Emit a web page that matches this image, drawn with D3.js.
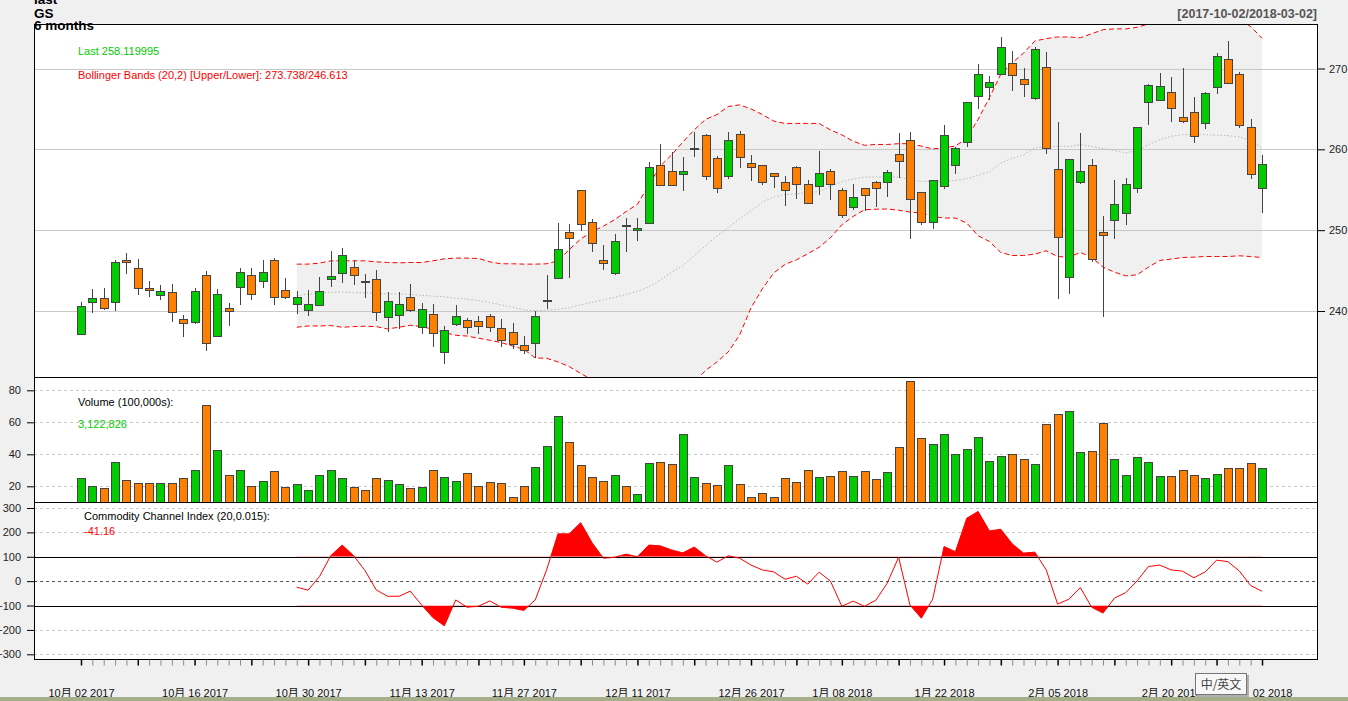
<!DOCTYPE html>
<html lang="en">
<head>
<meta charset="utf-8">
<title>GS 6 months</title>
<style>
  html, body { margin: 0; padding: 0; background: #f0f0f0; }
  svg { display: block; font-family: "Liberation Sans", Arial, sans-serif; }
</style>
</head>
<body>
<svg id="chart" width="1348" height="701"></svg>
<script src="https://cdn.jsdelivr.net/npm/d3@7"></script>
<script>
// trading days, 2017-10-02 .. 2018-03-02
const dates = [
  "2017-10-02","2017-10-03","2017-10-04","2017-10-05","2017-10-06","2017-10-09","2017-10-10","2017-10-11","2017-10-12","2017-10-13",
  "2017-10-16","2017-10-17","2017-10-18","2017-10-19","2017-10-20","2017-10-23","2017-10-24","2017-10-25","2017-10-26","2017-10-27",
  "2017-10-30","2017-10-31","2017-11-01","2017-11-02","2017-11-03","2017-11-06","2017-11-07","2017-11-08","2017-11-09","2017-11-10",
  "2017-11-13","2017-11-14","2017-11-15","2017-11-16","2017-11-17","2017-11-20","2017-11-21","2017-11-22","2017-11-24","2017-11-27",
  "2017-11-28","2017-11-29","2017-11-30","2017-12-01","2017-12-04","2017-12-05","2017-12-06","2017-12-07","2017-12-08","2017-12-11",
  "2017-12-12","2017-12-13","2017-12-14","2017-12-15","2017-12-18","2017-12-19","2017-12-20","2017-12-21","2017-12-22","2017-12-26",
  "2017-12-27","2017-12-28","2017-12-29","2018-01-02","2018-01-03","2018-01-04","2018-01-05","2018-01-08","2018-01-09","2018-01-10",
  "2018-01-11","2018-01-12","2018-01-16","2018-01-17","2018-01-18","2018-01-19","2018-01-22","2018-01-23","2018-01-24","2018-01-25",
  "2018-01-26","2018-01-29","2018-01-30","2018-01-31","2018-02-01","2018-02-02","2018-02-05","2018-02-06","2018-02-07","2018-02-08",
  "2018-02-09","2018-02-12","2018-02-13","2018-02-14","2018-02-15","2018-02-16","2018-02-20","2018-02-21","2018-02-22","2018-02-23",
  "2018-02-26","2018-02-27","2018-02-28","2018-03-01","2018-03-02"
];

const open = [
  237.1,241.1,241.6,241.0,246.3,245.2,242.8,241.95,242.3,239.0,
  238.6,244.4,236.8,240.35,242.95,244.4,243.6,246.2,242.55,240.85,
  240.1,240.7,243.95,244.7,245.4,243.6,243.95,239.2,239.5,241.7,
  238.0,239.6,234.9,238.35,238.85,238.75,239.35,237.85,237.35,235.75,
  235.95,241.2,244.05,249.75,254.95,250.9,246.3,244.6,250.6,250.0,
  250.85,257.95,257.2,256.85,260.0,261.65,258.9,256.65,261.8,258.3,
  258.05,257.05,255.95,257.8,255.6,255.35,257.2,254.85,252.85,255.1,
  255.85,255.85,259.3,261.05,254.6,251.0,255.45,258.05,260.8,266.5,
  267.6,269.2,270.6,268.7,266.25,270.1,257.55,244.2,255.95,258.05,
  249.65,251.25,252.1,255.1,265.85,266.1,267.0,264.0,264.5,263.15,
  267.6,271.1,269.2,262.65,255.1
];
const high = [
  241.1,242.7,242.9,246.3,247.2,246.4,243.7,243.2,243.4,239.5,
  242.8,244.9,242.7,241.0,245.3,245.3,246.3,246.6,244.1,242.45,
  242.6,244.2,247.45,247.8,246.3,244.55,245.05,242.3,242.3,243.3,
  241.0,240.85,238.1,240.7,239.1,239.35,239.6,239.0,238.5,236.9,
  240.0,244.45,250.9,250.75,255.0,251.4,248.2,249.55,251.5,251.55,
  258.4,260.6,259.7,259.05,262.2,261.95,259.2,262.2,262.3,259.3,
  258.1,257.1,256.7,257.95,256.2,259.8,257.55,255.2,255.7,255.2,
  256.1,257.45,262.0,262.2,254.65,256.25,263.0,260.3,265.9,270.6,
  269.1,273.95,272.2,270.1,272.7,272.0,263.4,258.85,262.0,258.8,
  251.8,256.2,256.45,262.8,268.1,269.45,268.95,270.1,266.5,267.1,
  271.95,273.35,269.6,263.7,259.35
];
const low = [
  237.0,239.7,240.1,240.0,244.6,242.0,241.7,241.3,238.7,236.8,
  238.4,235.1,236.8,238.1,240.7,241.3,242.9,240.8,241.5,239.6,
  239.4,240.7,242.95,243.45,243.2,241.65,238.8,237.45,237.8,239.9,
  237.1,235.6,233.5,238.2,237.1,237.1,237.45,235.6,235.35,234.7,
  234.2,240.3,244.0,244.1,249.95,247.35,245.1,244.4,247.25,248.7,
  250.8,255.5,255.5,254.8,259.1,256.25,254.55,256.3,257.75,256.1,
  255.6,255.2,252.95,253.9,253.2,254.3,253.75,251.55,252.55,252.35,
  252.85,254.1,256.45,248.9,250.6,250.15,255.15,256.9,260.35,265.05,
  266.1,269.2,267.25,266.45,266.1,259.45,241.45,242.1,255.7,246.05,
  239.25,248.9,250.65,254.6,262.95,266.0,263.4,263.25,260.8,262.55,
  266.85,268.1,262.65,256.35,252.1
];
const close = [
  240.6,241.6,240.35,246.0,246.0,242.8,242.55,242.45,239.85,238.5,
  242.45,236.0,242.1,240.0,244.8,242.1,244.8,241.7,241.7,241.7,
  240.85,242.45,244.3,246.9,244.45,243.5,239.85,241.2,240.85,240.1,
  240.2,237.25,237.6,239.35,238.0,238.1,238.0,236.4,235.9,235.15,
  239.35,241.3,247.65,249.0,250.7,248.4,245.9,248.65,250.5,250.15,
  257.7,255.55,255.55,257.2,260.1,256.6,255.2,261.05,259.05,257.8,
  255.95,256.6,254.85,255.7,253.35,256.95,255.6,251.85,254.0,254.35,
  255.2,257.1,258.55,253.75,251.0,256.2,261.65,260.15,265.75,269.2,
  268.25,272.55,269.1,268.0,272.3,260.15,249.15,258.8,257.2,246.4,
  249.4,253.2,255.6,262.65,267.85,267.75,265.0,263.5,261.55,266.85,
  271.45,268.1,263.0,256.85,258.12
];
// volume in 100,000s
const volume = [
  25,20,18.75,35,23.75,21.9,21.9,21.9,21.9,25,
  30,70.6,42.5,26.9,30,20,23.1,29.4,19.4,21.25,
  17.5,26.9,30,25,19.4,17.5,25,23.75,21.25,18.75,
  19.4,30,25.6,23.1,28.1,20,22.5,21.9,13.1,20,
  31.9,45,63.75,47.5,33.1,25.6,23.1,26.9,20,15,
  34.4,35,33.75,52.5,25.6,21.9,20.6,33.1,21.25,13.1,
  15.6,13.1,25,22.5,30,25.6,26.25,29.4,26.25,29.4,
  24.4,28.75,44.4,85.6,50,46.25,52.5,40,43.1,50.6,
  35.6,38.75,40,36.9,33.75,58.75,65,66.9,41.25,41.9,
  59.4,36.9,26.9,38.1,35,26.25,26.25,30,26.9,25,
  27.5,31.25,31.25,34.4,31.23
];

// indicators start at the 20th day (index 19)
const indicatorStart = 19;
const bbUpper = [
  245.8,245.8,245.92,246.21,246.21,246.21,246.21,246.08,246.0,245.96,
  246.0,246.0,246.21,246.46,246.54,246.54,246.5,246.08,245.84,245.84,
  245.8,245.8,245.84,246.2,247.6,248.9,249.8,250.5,251.3,252.3,
  253.2,255.6,257.9,259.3,260.9,262.4,263.7,264.3,265.3,265.5,
  265.0,264.3,263.5,263.2,263.2,263.2,263.2,262.4,261.8,261.0,
  260.5,260.6,260.6,260.7,260.7,260.4,260.05,260.2,260.4,261.4,
  263.7,266.4,269.3,270.7,271.9,273.4,273.7,273.9,273.9,273.8,
  274.3,274.8,274.9,274.9,275.1,275.5,276.0,276.5,277.0,277.2,
  277.2,277.0,276.6,276.0,275.2,273.74
];
const bbMid = [
  241.91,242.08,242.24,242.33,242.37,242.28,242.24,242.2,242.12,242.12,
  242.04,241.95,241.83,241.75,241.58,241.46,241.29,241.05,240.76,240.47,
  240.14,240.05,240.1,240.2,240.4,240.76,241.07,241.38,241.69,242.06,
  242.43,242.99,243.79,244.8,245.59,246.83,248.07,249.3,250.3,251.41,
  252.4,253.46,254.1,254.39,254.51,254.63,254.76,255.44,256.0,256.33,
  256.56,256.58,256.58,256.56,256.25,256.04,256.04,256.04,256.16,256.37,
  256.78,257.2,258.31,258.89,259.34,260.17,260.37,260.37,260.37,260.58,
  260.37,260.09,259.88,259.55,259.88,260.58,261.2,261.61,261.82,261.82,
  261.82,261.74,261.7,261.53,261.12,260.18
];
const bbLower = [
  237.99,238.15,238.15,238.2,237.99,238.07,238.11,238.07,237.78,237.99,
  238.24,238.07,237.74,237.33,237.0,236.9,236.63,236.38,236.09,235.67,
  235.26,234.19,234.15,233.7,233.13,232.27,231.5,231.0,230.5,230.2,
  230.0,229.8,229.7,229.8,230.3,231.2,232.64,233.69,234.93,237.04,
  240.38,242.74,244.7,245.77,246.33,247.08,247.88,249.06,250.67,251.7,
  252.53,252.59,252.62,252.47,252.24,252.12,251.7,251.5,251.5,250.88,
  249.31,248.6,247.24,246.87,246.87,247.04,247.45,246.74,246.66,247.24,
  246.66,245.43,244.81,244.35,244.47,245.43,246.25,246.42,246.62,246.66,
  246.74,246.74,246.74,246.83,246.74,246.61
];
const cci = [
  -25,-37,19,105,148,105,44,-36,-62,-62,
  -41,-98,-150,-183,-77,-107,-103,-81,-107,-111,
  -120,-77,46,194,194,240,158,94,98,111,
  100,148,145,128,116,140,104,78,104,94,
  66,46,38,8,20,-12,37,0,-103,-82,
  -103,-78,-8,98,-98,-152,-74,142,121,258,
  286,206,213,153,115,119,46,-94,-74,-26,
  -107,-131,-70,-47,1,60,66,46,41,14,
  38,86,80,42,-18,-41.16
];

const priceTicks = [240, 250, 260, 270];
const volumeTicks = [20, 40, 60, 80];
const cciTicks = [-300, -200, -100, 0, 100, 200, 300];
const labelDates = ["2017-10-02","2017-10-16","2017-10-30","2017-11-13","2017-11-27","2017-12-11",
                    "2017-12-26","2018-01-08","2018-01-22","2018-02-05","2018-02-20","2018-03-02"];

const upCol = "#00cc00", dnCol = "#ff8000", edge = "#444444";

const svg = d3.select("#chart");
const L = 34, R = 1317;
const mainTop = 24, volTop = 377, cciTop = 502, bottom = 659;

const x = d3.scalePoint().domain(dates).range([81, 1262]);
const yP = d3.scaleLinear().domain([240, 270]).range([311, 68.5]);
const yV = d3.scaleLinear().domain([20, 80]).range([486.3, 390.3]);
const yC = d3.scaleLinear().domain([-300, 300]).range([654.3, 508]);
const px = d => Math.round(x(d));

// panels
const defs = svg.append("defs");
[["clipMain", mainTop, volTop], ["clipVol", volTop, cciTop], ["clipCci", cciTop, bottom],
 ["clipHi", cciTop, yC(100)], ["clipLo", yC(-100), bottom]].forEach(([id, t, b]) => {
  defs.append("clipPath").attr("id", id).append("rect")
    .attr("x", L).attr("y", t).attr("width", R - L).attr("height", b - t);
});
svg.append("rect").attr("x", L).attr("y", mainTop).attr("width", R - L).attr("height", bottom - mainTop)
  .attr("fill", "#fff");

// ---- main panel
const gMain = svg.append("g").attr("clip-path", "url(#clipMain)");
const bands = dates.slice(indicatorStart).map((d, i) => ({date: d, u: bbUpper[i], m: bbMid[i], l: bbLower[i]}));

gMain.append("path").datum(bands)
  .attr("fill", "#f0f0f0")
  .attr("d", d3.area().x(d => x(d.date)).y0(d => yP(d.l)).y1(d => yP(d.u)));

gMain.selectAll(".pgrid").data(priceTicks).join("line")
  .attr("x1", L).attr("x2", R)
  .attr("y1", d => Math.round(yP(d)) + 0.5).attr("y2", d => Math.round(yP(d)) + 0.5)
  .attr("stroke", "#c8c8c8");

const bandLine = key => d3.line().x(d => x(d.date)).y(d => yP(d[key]));
gMain.append("path").datum(bands).attr("fill", "none").attr("stroke", "#b8b8b8")
  .attr("stroke-dasharray", "1.5,2").attr("d", bandLine("m"));
["u", "l"].forEach(k => {
  gMain.append("path").datum(bands).attr("fill", "none").attr("stroke", "#ff0000")
    .attr("stroke-dasharray", "5,3").attr("d", bandLine(k));
});

const candles = dates.map((d, i) => ({date: d, o: open[i], h: high[i], l: low[i], c: close[i], v: volume[i]}));
const cg = gMain.append("g").attr("shape-rendering", "crispEdges");
cg.selectAll("line").data(candles).join("line")
  .attr("x1", d => px(d.date) + 0.5).attr("x2", d => px(d.date) + 0.5)
  .attr("y1", d => yP(d.h)).attr("y2", d => yP(d.l))
  .attr("stroke", edge);
cg.selectAll("rect").data(candles).join("rect")
  .attr("x", d => px(d.date) - 3.5).attr("width", 8)
  .attr("y", d => yP(Math.max(d.o, d.c)))
  .attr("height", d => Math.max(1, Math.abs(yP(d.o) - yP(d.c))))
  .attr("fill", d => d.c >= d.o ? upCol : dnCol)
  .attr("stroke", edge);

svg.append("text").attr("x", 78).attr("y", 55).attr("font-size", 11).attr("fill", "#00cc00")
  .text("Last 258.119995");
svg.append("text").attr("x", 78).attr("y", 79).attr("font-size", 11).attr("fill", "#ff0000")
  .text("Bollinger Bands (20,2) [Upper/Lower]: 273.738/246.613");

// ---- volume panel
const gVol = svg.append("g").attr("clip-path", "url(#clipVol)");
gVol.selectAll("line").data(volumeTicks).join("line")
  .attr("x1", L).attr("x2", R)
  .attr("y1", d => Math.round(yV(d)) + 0.5).attr("y2", d => Math.round(yV(d)) + 0.5)
  .attr("stroke", "#c8c8c8").attr("stroke-dasharray", "3,3");
gVol.append("g").attr("shape-rendering", "crispEdges")
  .selectAll("rect").data(candles).join("rect")
  .attr("x", d => px(d.date) - 3.5).attr("width", 8)
  .attr("y", d => yV(d.v)).attr("height", d => cciTop + 2 - yV(d.v))
  .attr("fill", d => d.c >= d.o ? upCol : dnCol)
  .attr("stroke", edge);
svg.append("text").attr("x", 78).attr("y", 406).attr("font-size", 11).text("Volume (100,000s):");
svg.append("text").attr("x", 78).attr("y", 428).attr("font-size", 11).attr("fill", "#00cc00")
  .text(d3.format(",")(3122826));

// ---- CCI panel
const gCci = svg.append("g").attr("clip-path", "url(#clipCci)");
gCci.selectAll("line").data(cciTicks).join("line")
  .attr("x1", L).attr("x2", R)
  .attr("y1", d => Math.round(yC(d)) + 0.5).attr("y2", d => Math.round(yC(d)) + 0.5)
  .attr("stroke", d => Math.abs(d) === 100 ? "#000" : d === 0 ? "#555" : "#c8c8c8")
  .attr("stroke-dasharray", d => Math.abs(d) === 100 ? null : "3,3");

const cciPts = dates.slice(indicatorStart).map((d, i) => ({date: d, v: cci[i]}));
gCci.append("path").datum(cciPts).attr("clip-path", "url(#clipHi)")
  .attr("fill", "#ff0000")
  .attr("d", d3.area().x(d => x(d.date)).y0(yC(100)).y1(d => yC(d.v)));
gCci.append("path").datum(cciPts).attr("clip-path", "url(#clipLo)")
  .attr("fill", "#ff0000")
  .attr("d", d3.area().x(d => x(d.date)).y0(yC(-100)).y1(d => yC(d.v)));
gCci.append("path").datum(cciPts).attr("fill", "none").attr("stroke", "#ff0000")
  .attr("d", d3.line().x(d => x(d.date)).y(d => yC(d.v)));
svg.append("text").attr("x", 84).attr("y", 520).attr("font-size", 11)
  .text("Commodity Channel Index (20,0.015):");
svg.append("text").attr("x", 84).attr("y", 535).attr("font-size", 11).attr("fill", "#ff0000")
  .text(cci[cci.length - 1].toFixed(2));

// panel borders
[[mainTop, volTop], [volTop, cciTop], [cciTop, bottom]].forEach(([t, b]) => {
  svg.append("rect").attr("x", L + 0.5).attr("y", t + 0.5).attr("width", R - L)
    .attr("height", b - t).attr("fill", "none").attr("stroke", "#000");
});

// axes
function styleAxis(g) {
  g.select(".domain").remove();
  g.selectAll("text").attr("font-size", 11).attr("fill", "#222")
    .attr("font-family", "'Liberation Sans', Arial, sans-serif");
  g.selectAll("line").attr("stroke", "#000");
}
svg.append("g").attr("transform", `translate(${R + 1},0)`)
  .call(d3.axisRight(yP).tickValues(priceTicks).tickSize(7).tickPadding(4).tickFormat(d3.format("d")))
  .call(styleAxis);
svg.append("g").attr("transform", `translate(${L},0)`)
  .call(d3.axisLeft(yV).tickValues(volumeTicks).tickSize(7).tickPadding(6))
  .call(styleAxis);
svg.append("g").attr("transform", `translate(${L},0)`)
  .call(d3.axisLeft(yC).tickValues(cciTicks).tickSize(7).tickPadding(6))
  .call(styleAxis);

// x axis: a tick per day, darker at the first day of each week
const parse = d3.timeParse("%Y-%m-%d");
const weekStart = dates.filter((d, i) => i === 0 || i === dates.length - 1 ||
  parse(d).getDay() <= parse(dates[i - 1]).getDay());
const gx = svg.append("g").attr("transform", `translate(0,${bottom + 0.5})`)
  .call(d3.axisBottom(x).tickSize(6).tickFormat(""));
gx.select(".domain").remove();
gx.selectAll(".tick line")
  .attr("stroke", d => weekStart.includes(d) ? "#000" : "#888")
  .attr("stroke-width", d => weekStart.includes(d) ? 1.5 : 1);
const fmt = d3.timeFormat("%-m月 %d %Y");
const gxl = svg.append("g").attr("transform", `translate(0,${bottom})`)
  .call(d3.axisBottom(x).tickValues(labelDates).tickSize(0).tickPadding(30)
    .tickFormat(d => fmt(parse(d))));
gxl.select(".domain").remove();
gxl.selectAll("text").attr("font-size", 11).attr("fill", "#111")
  .attr("font-family", "'Liberation Sans', 'Noto Sans CJK SC', sans-serif");

// header (drawn last: "6 months" sits over the panel's top edge)
svg.append("text").attr("x", 34).attr("y", 4).attr("font-size", 13.5).attr("font-weight", "bold").text("last");
svg.append("text").attr("x", 34).attr("y", 18).attr("font-size", 13.5).attr("font-weight", "bold").text("GS");
svg.append("text").attr("x", 34).attr("y", 29.5).attr("font-size", 13.5).attr("font-weight", "bold").text("6 months");
svg.append("text").attr("x", R).attr("y", 18).attr("text-anchor", "end")
  .attr("font-size", 12.5).attr("font-weight", "bold").attr("fill", "#555")
  .text("[2017-10-02/2018-03-02]");

// screen overlay seen in the capture
svg.append("rect").attr("x", 0).attr("y", 697).attr("width", 1348).attr("height", 4).attr("fill", "#a6ae8c");
svg.append("rect").attr("x", 1197).attr("y", 675).attr("width", 52).attr("height", 22).attr("fill", "#b0b0b0");
svg.append("rect").attr("x", 1195.5).attr("y", 673.5).attr("width", 51).attr("height", 21)
  .attr("fill", "#f7f7f7").attr("stroke", "#767676");
svg.append("text").attr("x", 1221).attr("y", 689).attr("text-anchor", "middle")
  .attr("font-size", 12).attr("fill", "#444")
  .attr("font-family", "'Noto Sans CJK SC', sans-serif").text("中/英文");
</script>
</body>
</html>
